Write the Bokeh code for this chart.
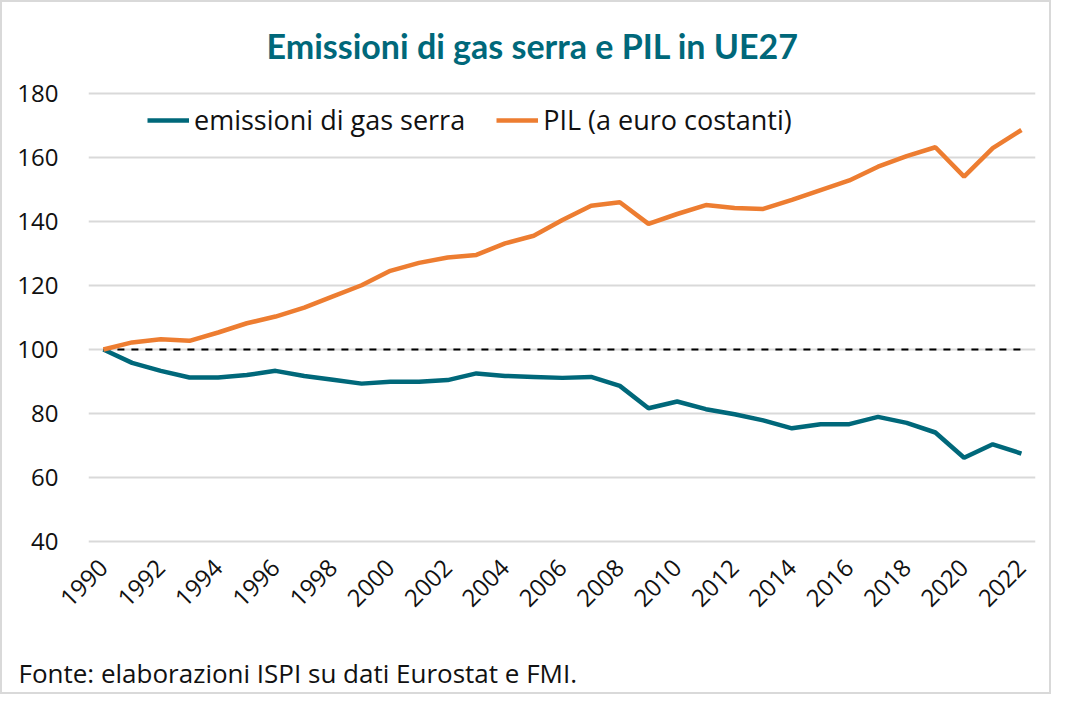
from bokeh.plotting import figure
from bokeh.models import Range1d, FixedTicker, Legend, LegendItem, Title
from bokeh.embed import file_html
from bokeh.resources import INLINE
import math

years = list(range(1990, 2023))
emissioni = [100.0, 95.8, 93.3, 91.2, 91.2, 92.0, 93.3, 91.7, 90.5, 89.3,
             89.9, 89.9, 90.4, 92.5, 91.7, 91.4, 91.1, 91.4, 88.6, 81.6,
             83.7, 81.3, 79.7, 77.8, 75.3, 76.6, 76.6, 78.9, 77.0, 74.0,
             66.1, 70.3, 67.4]
pil = [100.0, 102.2, 103.2, 102.7, 105.3, 108.2, 110.3, 113.1, 116.6, 120.1,
       124.6, 127.1, 128.8, 129.6, 133.2, 135.6, 140.5, 145.0, 146.1, 139.3,
       142.4, 145.2, 144.3, 144.0, 146.8, 149.9, 152.9, 157.2, 160.5, 163.3,
       154.1, 163.0, 168.7]
base = [100.0] * len(years)
y_ticks = [40, 60, 80, 100, 120, 140, 160, 180]
x_ticks = list(range(1990, 2023, 2))

title_text = "Emissioni di gas serra e PIL in UE27"
source_text = "Fonte: elaborazioni ISPI su dati Eurostat e FMI."
label_emis = "emissioni di gas serra"
label_pil = "PIL (a euro costanti)"

TEAL = "#00687A"
ORANGE = "#ED7D31"
FONT = "Open Sans"
TITLE_FONT = "Lato"

p = figure(width=1051, height=694, output_backend="svg", toolbar_location=None,
           x_range=Range1d(1989.48, 2022.49), y_range=Range1d(38, 182),
           min_border_left=86, min_border_right=18, min_border_top=85,
           min_border_bottom=149)
p.outline_line_color = None
p.background_fill_color = "white"
p.border_fill_color = "white"
p.styles = {"border": "2px solid #d9d9d9"}

# title
p.title.text = title_text
p.title.align = "left"
p.title.offset = 178
p.title.vertical_align = "middle"
p.title.standoff = 42
p.title.text_font = TITLE_FONT
p.title.text_font_style = "bold"
p.title.text_font_size = "34px"
p.title.text_color = TEAL

# axes
p.yaxis.ticker = FixedTicker(ticks=y_ticks)
p.xaxis.ticker = FixedTicker(ticks=x_ticks)
for ax in (p.xaxis[0], p.yaxis[0]):
    ax.axis_line_color = None
    ax.major_tick_line_color = None
    ax.minor_tick_line_color = None
    ax.major_tick_out = 0
    ax.major_tick_in = 0
    ax.minor_tick_out = 0
    ax.major_label_text_font = FONT
    ax.major_label_text_font_size = "24px"
    ax.major_label_text_color = "#111111"
p.yaxis.major_label_standoff = 30
p.xaxis.major_label_standoff = 16
p.xaxis.major_label_orientation = math.pi / 4
# blank axis label used only as vertical room before the source note
p.xaxis.axis_label = " "
p.xaxis.axis_label_standoff = 31
p.xaxis.axis_label_text_font_size = "1px"

p.add_layout(Title(text=source_text, align="left", offset=-70,
                   vertical_align="bottom", standoff=0,
                   text_font=FONT, text_font_style="normal",
                   text_font_size="26px", text_color="#111111"), "below")

p.xgrid.grid_line_color = None
p.ygrid.grid_line_color = "#d9d9d9"
p.ygrid.grid_line_width = 2
p.ygrid.ticker = FixedTicker(ticks=y_ticks)

# lines
p.line(years, base, line_color="black", line_width=2, line_dash="7 7")
r_emis = p.line(years, emissioni, line_color=TEAL, line_width=4.5)
r_pil = p.line(years, pil, line_color=ORANGE, line_width=4.5)

legend = Legend(items=[LegendItem(label=label_emis, renderers=[r_emis]),
                       LegendItem(label=label_pil, renderers=[r_pil])],
                location=(59, 409), orientation="horizontal",
                padding=0, margin=0, spacing=31, glyph_width=42, glyph_height=30,
                label_height=30, label_standoff=5,
                label_text_font=FONT, label_text_font_size="27px",
                label_text_color="#111111",
                background_fill_alpha=0, border_line_color=None)
p.add_layout(legend, "center")

open("out.html", "w").write(file_html(p, INLINE))
